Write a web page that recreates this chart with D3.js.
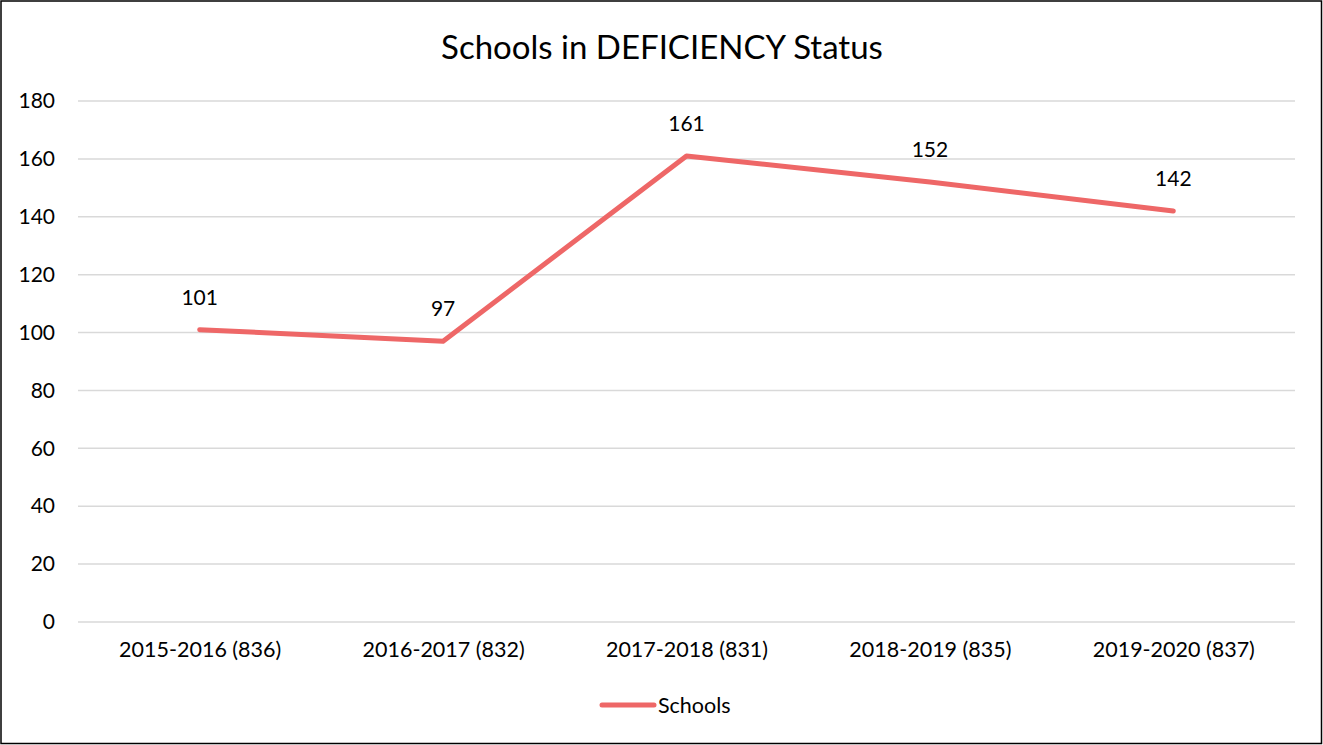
<!DOCTYPE html>
<meta charset="utf-8">
<style>
body { margin: 0; background: #fff; }
text { font-family: Lato, "Open Sans", sans-serif; fill: #000; }
.grid line { stroke: #d9d9d9; stroke-width: 1.5px; }
</style>
<body>
<script src="https://cdn.jsdelivr.net/npm/d3@7"></script>
<script>
    var categories = ["2015-2016 (836)", "2016-2017 (832)", "2017-2018 (831)", "2018-2019 (835)", "2019-2020 (837)"];
    var schools = [101, 97, 161, 152, 142];
    var yTicks = [0, 20, 40, 60, 80, 100, 120, 140, 160, 180];

    var W = 1323, H = 745;
    var margin = {top: 101, right: 28, bottom: 123, left: 78},
        width = W - margin.left - margin.right,
        height = H - margin.top - margin.bottom;

    var svg = d3.select("body").append("svg")
        .attr("width", W)
        .attr("height", H);

    // chart border
    svg.append("rect")
        .attr("x", 1).attr("y", 1)
        .attr("width", W - 2.5).attr("height", H - 2.5)
        .attr("fill", "none")
        .attr("stroke", "#000")
        .attr("stroke-width", 1.5);

    svg.append("text")
        .attr("x", 662).attr("y", 59)
        .attr("text-anchor", "middle")
        .style("font-size", "33px")
        .text("Schools in DEFICIENCY Status");

    var g = svg.append("g")
        .attr("transform", "translate(" + margin.left + "," + margin.top + ")");

    var x = d3.scalePoint()
        .domain(categories)
        .range([0, width])
        .padding(0.5);

    var y = d3.scaleLinear()
        .domain([0, 180])
        .range([height, 0]);

    // gridlines
    g.append("g")
        .attr("class", "grid")
        .selectAll("line")
        .data(yTicks)
      .enter().append("line")
        .attr("x1", 0).attr("x2", width)
        .attr("y1", function(d) { return y(d); })
        .attr("y2", function(d) { return y(d); });

    // y axis labels
    var yAxis = g.append("g")
        .call(d3.axisLeft(y).tickValues(yTicks).tickSize(0).tickPadding(23));
    yAxis.select(".domain").remove();
    yAxis.selectAll("text").style("font-size", "21px").attr("fill", "#000");

    // x axis labels
    var xAxis = g.append("g")
        .attr("transform", "translate(0," + height + ")")
        .call(d3.axisBottom(x).tickSize(0).tickPadding(20));
    xAxis.select(".domain").remove();
    xAxis.selectAll("text").style("font-size", "21.5px").attr("fill", "#000");

    var line = d3.line()
        .x(function(d, i) { return x(categories[i]); })
        .y(function(d) { return y(d); });

    g.append("path")
        .datum(schools)
        .attr("fill", "none")
        .attr("stroke", "#ee6767")
        .attr("stroke-width", 5)
        .attr("stroke-linejoin", "round")
        .attr("stroke-linecap", "round")
        .attr("d", line);

    // data labels
    g.selectAll(".label")
        .data(schools)
      .enter().append("text")
        .attr("class", "label")
        .attr("x", function(d, i) { return x(categories[i]); })
        .attr("y", function(d) { return y(d) - 25; })
        .attr("text-anchor", "middle")
        .style("font-size", "21px")
        .text(function(d) { return d; });

    // legend
    var legend = svg.append("g").attr("transform", "translate(602,705)");
    legend.append("line")
        .attr("x1", 0).attr("x2", 52)
        .attr("stroke", "#ee6767")
        .attr("stroke-width", 5)
        .attr("stroke-linecap", "round");
    legend.append("text")
        .attr("x", 56).attr("y", 8)
        .style("font-size", "21.5px")
        .text("Schools");
</script>
